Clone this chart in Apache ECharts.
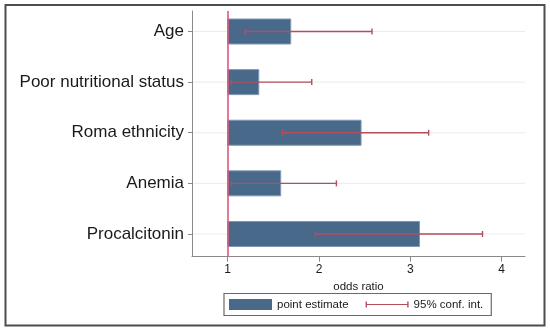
<!DOCTYPE html>
<html>
<head>
<meta charset="utf-8">
<script src="https://cdn.jsdelivr.net/npm/echarts@6/dist/echarts.min.js"></script>
<style>
html,body{margin:0;padding:0;background:#fff;}
#chart{width:550px;height:332px;}
</style>
</head>
<body>
<div id="chart"></div>
<script>
// ---- data ----
const categories = ['Age', 'Poor nutritional status', 'Roma ethnicity', 'Anemia', 'Procalcitonin'];
const oddsRatio = [1.69, 1.34, 2.46, 1.58, 3.10];
const ciLow = [1.19, 1.04, 1.60, 1.04, 1.96];
const ciHigh = [2.58, 1.92, 3.20, 2.19, 3.79];
const xTicks = [1, 2, 3, 4];
const referenceValue = 1;
const seriesNames = ['point estimate', '95% conf. int.'];
const xTitle = 'odds ratio';

// ---- build ----
const FONT = '"Liberation Sans", Arial, sans-serif';
const BAR_COLOR = '#49698b';
const CI_COLOR = '#b34e5a';
const REF_COLOR = '#e0577c';

const rows = categories.map((c, i) => [i, oddsRatio[i], ciLow[i], ciHigh[i]]);
const catIdx = categories.map((c, i) => i);

const chart = echarts.init(document.getElementById('chart'), null, {renderer: 'canvas'});

const option = {
  animation: false,
  backgroundColor: '#fff',
  textStyle: {fontFamily: FONT},
  grid: {left: 192, right: 25, top: 11, bottom: 75.3, containLabel: false},
  xAxis: {
    type: 'value',
    min: 0.609,
    max: 4.255,
    name: xTitle,
    nameLocation: 'middle',
    nameGap: 19,
    nameTextStyle: {fontFamily: FONT, fontSize: 11.5, color: '#1a1a1a'},
    axisLine: {show: true, onZero: false, lineStyle: {color: '#8a8a8a', width: 1}},
    axisTick: {show: true, customValues: xTicks, length: 5, lineStyle: {color: '#8a8a8a'}},
    axisLabel: {customValues: xTicks, margin: 7, fontFamily: FONT, fontSize: 12, color: '#1a1a1a'},
    splitLine: {show: false}
  },
  yAxis: {
    type: 'value',
    inverse: true,
    min: -0.405,
    max: 4.449,
    axisLine: {show: true, onZero: false, lineStyle: {color: '#8a8a8a', width: 1}},
    axisTick: {show: true, customValues: catIdx, length: 4, lineStyle: {color: '#8a8a8a'}},
    axisLabel: {
      customValues: catIdx,
      margin: 8,
      fontFamily: FONT,
      fontSize: 17,
      color: '#1a1a1a',
      formatter: v => categories[Math.round(v)]
    },
    splitLine: {show: false}
  },
  legend: {
    left: 224,
    top: 293.5,
    orient: 'horizontal',
    padding: [5, 8, 5, 5],
    itemGap: 17,
    itemWidth: 43,
    itemHeight: 11,
    borderColor: '#6a6a6a',
    borderWidth: 1.2,
    textStyle: {fontFamily: FONT, fontSize: 11.5, color: '#1a1a1a'},
    data: [
      {name: seriesNames[0], icon: 'rect', itemStyle: {color: BAR_COLOR, borderWidth: 0}},
      {name: seriesNames[1], icon: 'path://M0,0h1.4v6h-1.4zM0,2.4h43v1.2h-43zM41.6,0h1.4v6h-1.4z', itemStyle: {color: CI_COLOR, borderWidth: 0}}
    ]
  },
  graphic: [{
    type: 'rect',
    shape: {x: 5.5, y: 5, width: 539, height: 320.5},
    style: {fill: 'none', stroke: '#4d4d4d', lineWidth: 2},
    silent: true,
    z: 100
  }],
  series: [
    {
      name: 'gridlines',
      type: 'custom',
      data: rows,
      encode: {x: 1, y: 0},
      silent: true,
      z: 1,
      renderItem: (params, api) => {
        const cs = params.coordSys;
        const y = api.coord([referenceValue, api.value(0)])[1];
        return {
          type: 'line',
          shape: {x1: cs.x + 1, y1: y, x2: cs.x + cs.width, y2: y},
          style: {stroke: '#e4eeee', lineWidth: 1}
        };
      }
    },
    {
      name: seriesNames[0],
      type: 'custom',
      data: rows,
      encode: {x: 1, y: 0},
      itemStyle: {color: BAR_COLOR},
      z: 2,
      renderItem: (params, api) => {
        const i = api.value(0);
        const p0 = api.coord([referenceValue, i]);
        const p1 = api.coord([api.value(1), i]);
        const h = api.size([0, 1])[1] * 0.494;
        return {
          type: 'rect',
          shape: {x: p0[0], y: p0[1] - h / 2, width: p1[0] - p0[0], height: h},
          style: {fill: BAR_COLOR, stroke: '#7f98b2', lineWidth: 1}
        };
      },
      markLine: {
        silent: true,
        symbol: 'none',
        label: {show: false},
        lineStyle: {color: REF_COLOR, width: 1.6, type: 'solid'},
        data: [{xAxis: referenceValue}],
        z: 5
      }
    },
    {
      name: seriesNames[1],
      type: 'custom',
      data: rows,
      encode: {x: [2, 3], y: 0},
      itemStyle: {color: CI_COLOR},
      z: 3,
      renderItem: (params, api) => {
        const i = api.value(0);
        const a = api.coord([api.value(2), i]);
        const b = api.coord([api.value(3), i]);
        const c = 3;
        return {
          type: 'group',
          children: [
            {type: 'line', shape: {x1: a[0], y1: a[1], x2: b[0], y2: b[1]}, style: {stroke: CI_COLOR, lineWidth: 1.4}},
            {type: 'line', shape: {x1: a[0], y1: a[1] - c, x2: a[0], y2: a[1] + c}, style: {stroke: CI_COLOR, lineWidth: 1.4}},
            {type: 'line', shape: {x1: b[0], y1: b[1] - c, x2: b[0], y2: b[1] + c}, style: {stroke: CI_COLOR, lineWidth: 1.4}}
          ]
        };
      }
    }
  ]
};
chart.setOption(option);
</script>
</body>
</html>
